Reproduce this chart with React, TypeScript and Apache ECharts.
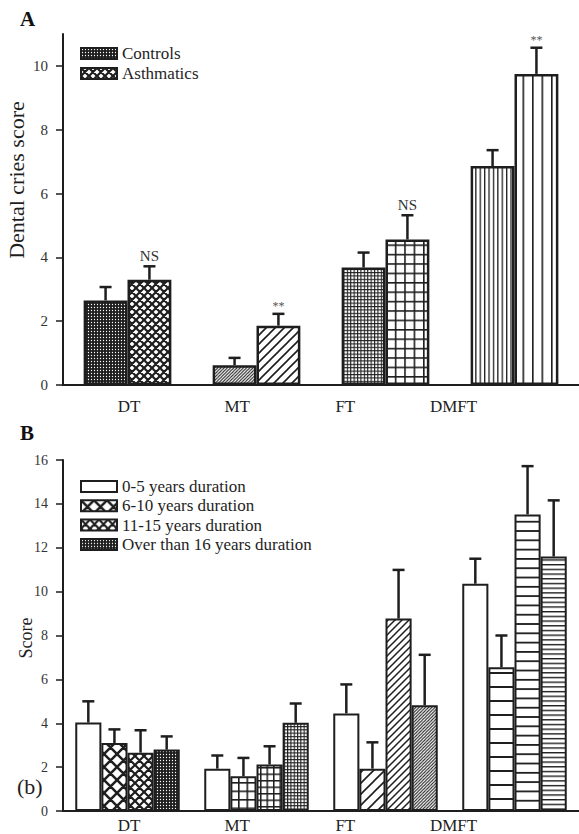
import React, { useEffect, useRef } from "react";
import * as echarts from "echarts";

// ---------- data ----------
const categories = ["DT", "MT", "FT", "DMFT"];
const yTicksA = [0, 2, 4, 6, 8, 10];
const yTicksB = [0, 2, 4, 6, 8, 10, 12, 14, 16];

const controlsMean = [2.65, 0.62, 3.68, 6.86];
const controlsSD = [0.42, 0.23, 0.47, 0.5];
const asthmaticsMean = [3.3, 1.86, 4.56, 9.75];
const asthmaticsSD = [0.42, 0.37, 0.76, 0.82];
const significance = ["NS", "**", "NS", "**"];

const dur0to5Mean = [4.03, 1.93, 4.45, 10.36];
const dur0to5SD = [0.97, 0.6, 1.32, 1.14];
const dur6to10Mean = [3.1, 1.58, 1.93, 6.55];
const dur6to10SD = [0.62, 0.84, 1.2, 1.45];
const dur11to15Mean = [2.66, 2.12, 8.77, 13.52];
const dur11to15SD = [1.02, 0.83, 2.22, 2.2];
const dur16Mean = [2.8, 4.02, 4.82, 11.6];
const dur16SD = [0.6, 0.88, 2.3, 2.56];

const seriesNamesA = ["Controls", "Asthmatics"];
const seriesNamesB = [
  "0-5 years duration",
  "6-10 years duration",
  "11-15 years duration",
  "Over than 16 years duration",
];
const yNameA = "Dental cries score";
const yNameB = "Score";

// ---------- styles ----------
const FONT = "Liberation Serif";
const INK = "#1e1e1e";

function pat(kind: string, s: number, w: number): any {
  let body = "";
  if (kind === "dots") {
    body = `<rect width="${s}" height="${s}" fill="${INK}"/><circle cx="${s / 2}" cy="${s / 2}" r="${w}" fill="#fff"/>`;
  } else if (kind === "cross" || kind === "diag") {
    let d = "";
    for (const c of [0, s, 2 * s]) d += `M${-1},${c + 1}L${s + 1},${c - s - 1}`;
    if (kind === "cross") for (const c of [-s, 0, s]) d += `M${-1},${-1 + c}L${s + 1},${s + 1 + c}`;
    body = `<rect width="${s}" height="${s}" fill="#fff"/><path d="${d}" stroke="${INK}" stroke-width="${w}" fill="none"/>`;
  } else if (kind === "grid") {
    body = `<rect width="${s}" height="${s}" fill="#fff"/><rect width="${s}" height="${w}" fill="${INK}"/><rect width="${w}" height="${s}" fill="${INK}"/>`;
  } else if (kind === "vert") {
    body = `<rect width="${s}" height="${s}" fill="#fff"/><rect width="${w}" height="${s}" fill="${INK}"/>`;
  } else if (kind === "horiz") {
    body = `<rect width="${s}" height="${s}" fill="#fff"/><rect width="${s}" height="${w}" fill="${INK}"/>`;
  }
  const svg = `<svg xmlns="http://www.w3.org/2000/svg" width="${s}" height="${s}">${body}</svg>`;
  return {
    image: "data:image/svg+xml;charset=utf-8," + encodeURIComponent(svg),
    repeat: "repeat",
    imageWidth: s,
    imageHeight: s,
  };
}

const fillsA = [
  [pat("dots", 3, 0.65), pat("diag", 3.2, 1), pat("grid", 3.4, 1.1), pat("vert", 4.4, 1.3)],
  [pat("cross", 8, 2.2), pat("diag", 9, 1.6), pat("grid", 9.4, 1.6), pat("vert", 9.5, 1.6)],
];
const fillsB = [
  ["#fff", "#fff", "#fff", "#fff"],
  [pat("cross", 13, 2.5), pat("grid", 8.5, 1.6), pat("diag", 11, 1.6), pat("horiz", 14, 2)],
  [pat("cross", 9, 2.2), pat("grid", 6.5, 1.5), pat("diag", 7, 1.5), pat("horiz", 9.3, 1.8)],
  [pat("dots", 3, 0.65), pat("grid", 3.3, 1.1), pat("diag", 3.2, 1), pat("horiz", 4.7, 1.4)],
];

function barSeries(name: string, values: number[], fills: any[], xi: number, yi: number, gap: string, bw: number) {
  return {
    type: "bar",
    name,
    xAxisIndex: xi,
    yAxisIndex: yi,
    barGap: "0%",
    barCategoryGap: gap,
    itemStyle: { color: fills[0], borderColor: INK, borderWidth: bw },
    data: values.map((v, i) => ({ value: v, itemStyle: { color: fills[i] } })),
    z: 2,
  };
}

function errSeries(
  means: number[],
  sds: number[],
  k: number,
  n: number,
  gap: number,
  xi: number,
  yi: number,
  labels?: string[]
) {
  return {
    type: "custom",
    xAxisIndex: xi,
    yAxisIndex: yi,
    silent: true,
    z: 5,
    data: means.map((m, i) => [i, m, m + sds[i]]),
    renderItem: (params: any, api: any) => {
      const i = api.value(0);
      const base = api.coord([i, api.value(1)]);
      const top = api.coord([i, api.value(2)]);
      const band = api.size([1, 0])[0];
      const bw = (band * (1 - gap)) / n;
      const x = base[0] + (k - (n - 1) / 2) * bw;
      const children: any[] = [
        { type: "line", shape: { x1: x, y1: base[1], x2: x, y2: top[1] }, style: { stroke: INK, lineWidth: 2.5 } },
        { type: "line", shape: { x1: x - 6, y1: top[1], x2: x + 6, y2: top[1] }, style: { stroke: INK, lineWidth: 2.5 } },
      ];
      if (labels) {
        const t = labels[params.dataIndex];
        const star = t === "**";
        children.push({
          type: "text",
          style: {
            text: t,
            x,
            y: top[1] - (star ? 2 : 3),
            align: "center",
            verticalAlign: "bottom",
            font: `${star ? 12 : 15}px "${FONT}"`,
            fill: star ? "#555" : "#333",
          },
        });
      }
      return { type: "group", children };
    },
  };
}

const GAP_A = 0.32;
const GAP_B = 0.19;

export default function App() {
  const ref = useRef<HTMLDivElement>(null);
  useEffect(() => {
    if (!ref.current) return;
    const chart = echarts.init(ref.current, null, { renderer: "svg" });
    const catAxis = (gi: number) => ({
      gridIndex: gi,
      type: "category",
      data: categories,
      axisLine: { onZero: false, lineStyle: { color: INK, width: 2 } },
      axisTick: { show: false },
      axisLabel: { show: false },
    });
    const labelAxis = (gi: number, margin: number) => ({
      gridIndex: gi,
      type: "value",
      min: -0.61,
      max: 4.16,
      position: "bottom",
      axisLine: { show: false, onZero: false },
      axisTick: { show: false },
      splitLine: { show: false },
      axisLabel: {
        customValues: [0, 1, 2, 3],
        formatter: (v: number) => categories[Math.round(v)],
        margin,
        fontSize: 17,
        color: INK,
        fontFamily: FONT,
      },
    });
    const valAxis = (gi: number, max: number, ticks: number[], fs: number) => ({
      gridIndex: gi,
      type: "value",
      min: 0,
      max,
      interval: 2,
      axisLine: { show: true, onZero: false, lineStyle: { color: INK, width: 2 } },
      axisTick: { show: true, length: 7, customValues: ticks, lineStyle: { color: INK, width: 1.5 } },
      axisLabel: { customValues: ticks, fontSize: fs, color: "#333", margin: 15, fontFamily: FONT },
      splitLine: { show: false },
    });
    const option: any = {
      animation: false,
      textStyle: { fontFamily: FONT },
      title: [
        { text: "A", left: 15, top: 3, textStyle: { fontSize: 21, fontWeight: "bold", color: "#111", fontFamily: FONT } },
        { text: "B", left: 15, top: 417, textStyle: { fontSize: 21, fontWeight: "bold", color: "#111", fontFamily: FONT } },
      ],
      legend: [
        {
          data: seriesNamesA,
          orient: "vertical",
          left: 80,
          top: 45,
          padding: 0,
          itemWidth: 36,
          itemHeight: 11,
          itemGap: 3,
          icon: "rect",
          selectedMode: false,
          itemStyle: { borderColor: INK, borderWidth: 2 },
          textStyle: { fontSize: 17, color: INK, fontFamily: FONT },
        },
        {
          data: seriesNamesB,
          orient: "vertical",
          left: 80,
          top: 478,
          padding: 0,
          itemWidth: 36,
          itemHeight: 11,
          itemGap: 2.3,
          icon: "rect",
          selectedMode: false,
          itemStyle: { borderColor: INK, borderWidth: 2 },
          textStyle: { fontSize: 17, color: INK, fontFamily: FONT },
        },
      ],
      grid: [
        { left: 63, right: 0, top: 34, height: 351, outerBoundsMode: "none", containLabel: false },
        { left: 63, right: 0, top: 460, height: 351, outerBoundsMode: "none", containLabel: false },
      ],
      xAxis: [catAxis(0), labelAxis(0, 13), catAxis(1), labelAxis(1, 6)],
      yAxis: [valAxis(0, 11, yTicksA, 15), valAxis(1, 16, yTicksB, 14)],
      graphic: [
        {
          type: "text",
          x: 16,
          y: 180,
          rotation: Math.PI / 2,
          style: { text: yNameA, font: `22px "${FONT}"`, fill: INK, align: "center", verticalAlign: "middle" },
        },
        {
          type: "text",
          x: 26,
          y: 638,
          rotation: Math.PI / 2,
          style: { text: yNameB, font: `18px "${FONT}"`, fill: INK, align: "center", verticalAlign: "middle" },
        },
        {
          type: "text",
          left: 17,
          top: 775,
          style: { text: "(b)", font: `22px "${FONT}"`, fill: INK },
        },
      ],
      series: [
        barSeries(seriesNamesA[0], controlsMean, fillsA[0], 0, 0, "32%", 2.5),
        barSeries(seriesNamesA[1], asthmaticsMean, fillsA[1], 0, 0, "32%", 2.5),
        errSeries(controlsMean, controlsSD, 0, 2, GAP_A, 0, 0),
        errSeries(asthmaticsMean, asthmaticsSD, 1, 2, GAP_A, 0, 0, significance),
        barSeries(seriesNamesB[0], dur0to5Mean, fillsB[0], 2, 1, "19%", 2),
        barSeries(seriesNamesB[1], dur6to10Mean, fillsB[1], 2, 1, "19%", 2),
        barSeries(seriesNamesB[2], dur11to15Mean, fillsB[2], 2, 1, "19%", 2),
        barSeries(seriesNamesB[3], dur16Mean, fillsB[3], 2, 1, "19%", 2),
        errSeries(dur0to5Mean, dur0to5SD, 0, 4, GAP_B, 2, 1),
        errSeries(dur6to10Mean, dur6to10SD, 1, 4, GAP_B, 2, 1),
        errSeries(dur11to15Mean, dur11to15SD, 2, 4, GAP_B, 2, 1),
        errSeries(dur16Mean, dur16SD, 3, 4, GAP_B, 2, 1),
      ],
    };
    chart.setOption(option);
    return () => chart.dispose();
  }, []);
  return (
    <div
      ref={ref}
      style={{ position: "absolute", left: 0, top: 0, width: 579, height: 834, background: "#fff" }}
    />
  );
}
